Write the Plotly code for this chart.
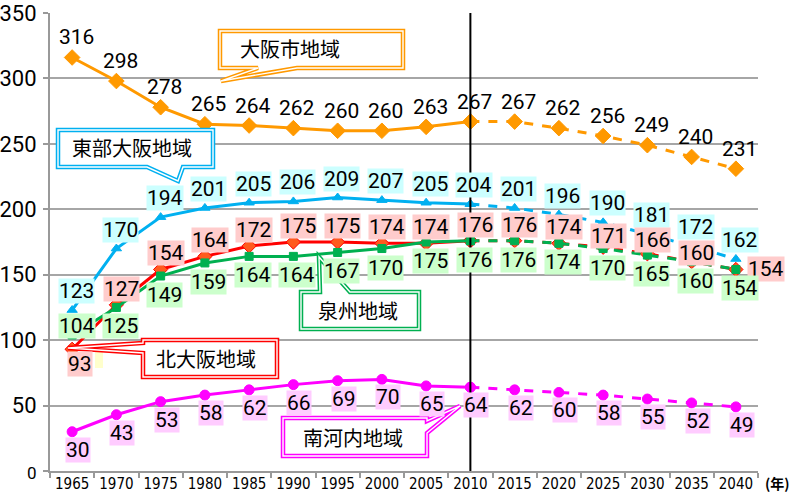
import plotly.graph_objects as go

years = [1965, 1970, 1975, 1980, 1985, 1990, 1995, 2000, 2005, 2010,
         2015, 2020, 2025, 2030, 2035, 2040]
year_labels = [str(y) for y in years]

osaka_city = [316, 298, 278, 265, 264, 262, 260, 260, 263, 267, 267, 262, 256, 249, 240, 231]
east_osaka = [123, 170, 194, 201, 205, 206, 209, 207, 205, 204, 201, 196, 190, 181, 172, 162]
north_osaka = [93, 127, 154, 164, 172, 175, 175, 174, 174, 176, 176, 174, 171, 166, 160, 154]
senshu = [104, 125, 149, 159, 164, 164, 167, 170, 175, 176, 176, 174, 170, 165, 160, 154]
minami_kawachi = [30, 43, 53, 58, 62, 66, 69, 70, 65, 64, 62, 60, 58, 55, 52, 49]

series_names = ["大阪市地域", "東部大阪地域", "北大阪地域", "泉州地域", "南河内地域"]
y_ticks = [0, 50, 100, 150, 200, 250, 300, 350]
split_year = 2010

series = [
    dict(name=series_names[0], y=osaka_city, color="#FF9900", symbol="diamond", size=12,
         mcolor="#FF9900", bg="rgba(0,0,0,0)", shift=(4, 20)),
    dict(name=series_names[1], y=east_osaka, color="#00B0F0", symbol="triangle-up", size=9,
         mcolor="#00B0F0", bg="#CCFFFF", shift=(4, 19)),
    dict(name=series_names[2], y=north_osaka, color="#FF0000", symbol="diamond", size=11,
         mcolor="#FF5A1E", bg="#FFCCCC", shift=(5, 16)),
    dict(name=series_names[3], y=senshu, color="#00B050", symbol="square", size=8,
         mcolor="#00B050", bg="#CCFFCC", shift=(4, -19)),
    dict(name=series_names[4], y=minami_kawachi, color="#FF00FF", symbol="circle", size=10,
         mcolor="#FF00FF", bg="#FFCCFF", shift=(6, -18)),
]

# exceptions for data label placement: (series index, point index) -> (xshift, yshift)
label_exceptions = {(2, 0): (8, -15), (2, 12): (5, 11), (2, 13): (5, 14), (2, 14): (5, 9),
                    (2, 15): (30, 0), (3, 0): (5, 9)}

fig = go.Figure()
split = years.index(split_year)
for s in series:
    fig.add_trace(go.Scatter(
        x=years[:split + 1], y=s["y"][:split + 1], mode="lines+markers",
        line=dict(color=s["color"], width=3),
        marker=dict(symbol=s["symbol"], size=s["size"], color=s["mcolor"],
                    line=dict(color=s["color"], width=1)),
        showlegend=False, name=s["name"]))
    fig.add_trace(go.Scatter(
        x=years[split:], y=s["y"][split:], mode="lines+markers",
        line=dict(color=s["color"], width=3, dash="dash"),
        marker=dict(symbol=s["symbol"], size=s["size"], color=s["mcolor"],
                    line=dict(color=s["color"], width=1)),
        showlegend=False, name=s["name"]))

annotations = []
for si, s in enumerate(series):
    for pi, (x, v) in enumerate(zip(years, s["y"])):
        xs, ys = label_exceptions.get((si, pi), s["shift"])
        annotations.append(dict(
            x=x, y=v, xref="x", yref="y", text=str(v), showarrow=False,
            xshift=xs, yshift=ys, bgcolor=s["bg"], borderpad=0,
            font=dict(family="Roboto, sans-serif", size=21, color="black")))

# pixel -> paper helpers (plot area: x 50..758, y 13..471)
L, R, T, B = 50, 758, 13, 471
def px(x, y):
    return ((x - L) / (R - L), (B - y) / (B - T))

def path(points):
    pts = [px(x, y) for x, y in points]
    return "M " + " L ".join(f"{a:.5f},{b:.5f}" for a, b in pts) + " Z"

callouts = [
    (series_names[0], "#FF9900",
     [(220, 31), (403, 31), (403, 68), (297, 68), (221, 81), (258, 68), (220, 68)], (290, 49)),
    (series_names[1], "#00B0F0",
     [(58, 130), (213, 130), (213, 167), (183, 167), (178, 181), (147, 167), (58, 167)], (132, 148)),
    (series_names[3], "#00B050",
     [(301, 292), (320, 292), (319, 257), (350, 292), (419, 292), (419, 329), (301, 329)], (358, 310)),
    (series_names[2], "#FF0000",
     [(143, 340), (277, 340), (277, 377), (143, 377), (143, 353), (68, 348), (143, 343)], (206, 358)),
    (series_names[4], "#FF00FF",
     [(283, 418), (427, 418), (427, 421), (460, 406), (427, 433), (427, 456), (283, 456)], (353, 437)),
]

shapes = []
# pale yellow fragment next to 93
x0, y0 = px(95, 350); x1, y1 = px(103, 368)
shapes.append(dict(type="rect", xref="paper", yref="paper", x0=x0, y0=y0, x1=x1, y1=y1,
                   fillcolor="#FFFFCC", line=dict(width=0), layer="above"))
for name, col, pts, tpos in callouts:
    p = path(pts)
    shapes.append(dict(type="path", xref="paper", yref="paper", path=p,
                       fillcolor="white", line=dict(color=col, width=4.5), layer="above"))
    shapes.append(dict(type="path", xref="paper", yref="paper", path=p,
                       line=dict(color="white", width=1.4), layer="above"))
    tx, ty = px(*tpos)
    annotations.append(dict(x=tx, y=ty, xref="paper", yref="paper", text=name,
                            showarrow=False, xanchor="center", yanchor="middle",
                            font=dict(family="Noto Sans CJK JP", size=20, color="black")))

# vertical divider at 2010
shapes.append(dict(type="line", xref="x", yref="y", x0=split_year, x1=split_year,
                   y0=0, y1=350, line=dict(color="black", width=2), layer="above"))

yx, yy = px(777, 483)
annotations.append(dict(x=yx, y=yy, xref="paper", yref="paper", text="<b>(年)</b>",
                        showarrow=False, xanchor="center", yanchor="middle",
                        font=dict(family="Noto Sans CJK JP", size=14, color="black")))

fig.update_layout(
    width=793, height=494,
    margin=dict(l=50, r=35, t=13, b=23, autoexpand=False),
    plot_bgcolor="white", paper_bgcolor="white",
    showlegend=False,
    annotations=annotations,
    shapes=shapes,
    xaxis=dict(range=[1962.5, 2042.5], tickvals=years, ticktext=year_labels,
               ticks="", showgrid=False, showline=True, linecolor="#999999", linewidth=2,
               tickfont=dict(family="Liberation Sans Narrow, DejaVu Sans Condensed, sans-serif",
                             size=15, color="black"),
               minor=dict(ticks="outside", tick0=1962.5, dtick=5, ticklen=5,
                          tickcolor="#999999", tickwidth=2, showgrid=False),
               zeroline=False, automargin=False, ticklabelstandoff=-2),
    yaxis=dict(range=[0, 350], tickvals=y_ticks,
               ticktext=['<span style="font-size:17px">0</span>'] + [str(v) for v in y_ticks[1:]],
               ticks="outside", ticklen=5, tickcolor="#999999", tickwidth=2,
               showgrid=True, gridcolor="#A6A6A6", gridwidth=2,
               showline=True, linecolor="#999999", linewidth=2, zeroline=False,
               tickfont=dict(family="Roboto, sans-serif", size=22, color="black"),
               ticklabelstandoff=2, automargin=False),
)

fig.write_html("out.html", config={"displayModeBar": False},
               post_script="document.body.style.margin='0';document.body.style.overflow='hidden';")
